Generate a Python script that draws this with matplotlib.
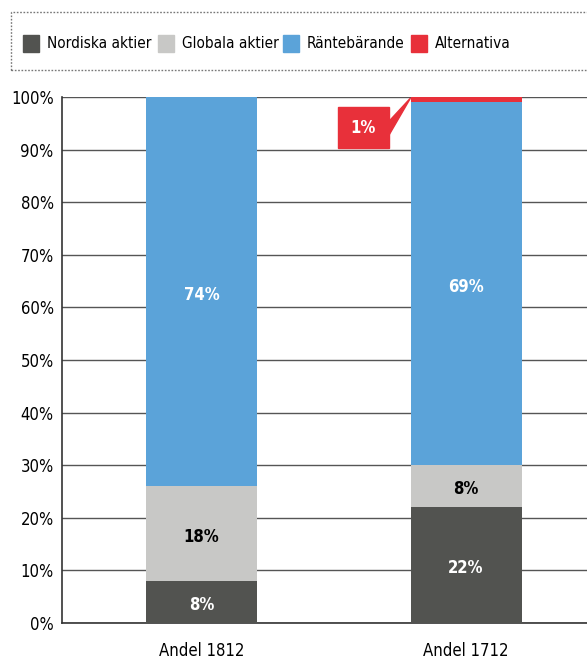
import matplotlib
matplotlib.use("Agg")
import matplotlib.pyplot as plt
from matplotlib.patches import Rectangle, Polygon
import numpy as np

plt.rcParams["font.family"] = ["DejaVu Sans"]
plt.rcParams["font.stretch"] = "condensed"

categories = ["Andel 1812", "Andel 1712"]
series_names = ["Nordiska aktier", "Globala aktier", "Räntebärande", "Alternativa"]
nordiska = [8, 22]
globala = [18, 8]
rante = [74, 69]
alternativa = [0, 1]
colors = ["#525350", "#c8c8c6", "#5ba3d9", "#e8303a"]
label_colors = ["white", "black", "white", "white"]

fig = plt.figure(figsize=(5.87, 6.6), dpi=100)
ax = fig.add_axes([62 / 587, 1 - 623 / 660, 1 - 62 / 587, (623 - 97) / 660])

x = np.arange(len(categories))
width = 0.42
bottom = np.zeros(len(categories))
series = [nordiska, globala, rante, alternativa]
for vals, col, lcol in zip(series, colors, label_colors):
    vals = np.array(vals, dtype=float)
    ax.bar(x, vals, width, bottom=bottom, color=col, zorder=3)
    for xi, v, b in zip(x, vals, bottom):
        if v >= 5:
            ax.text(xi, b + v / 2 - 0.6, f"{int(v)}%", ha="center", va="center",
                    color=lcol, fontsize=12, fontweight="bold", zorder=4)
    bottom += vals

# callout for the small Alternativa slice
i = 1
tip_x = x[i] - width / 2
tip_y = bottom[i] - alternativa[i] / 2 + 0.3
bx, by, bw, bh = 0.612, 94.2, 0.193, 7.8
ax.add_patch(Rectangle((bx - bw / 2, by - bh / 2), bw, bh, color=colors[3],
                       zorder=5, clip_on=False))
ax.add_patch(Polygon([(bx + bw / 2 - 0.005, by - 1.9), (bx + bw / 2 - 0.005, by + 0.9),
                      (tip_x, tip_y)], closed=True, color=colors[3], zorder=5))
ax.text(bx, by, f"{alternativa[i]}%", ha="center", va="center", color="white",
        fontsize=12, fontweight="bold", zorder=6)

ax.set_xlim(-0.527, 1.457)
ax.set_ylim(0, 100)
ax.set_yticks(np.arange(0, 101, 10))
ax.set_yticklabels([f"{v}%" for v in range(0, 101, 10)], fontsize=12)
ax.set_xticks(x)
ax.set_xticklabels(categories, fontsize=12)
ax.tick_params(length=0, pad=6)
ax.tick_params(axis="x", pad=14)
ax.grid(axis="y", color="#555555", lw=1.0, zorder=0)
for s in ["top", "right"]:
    ax.spines[s].set_visible(False)
ax.spines["left"].set_color("#333333")
ax.spines["bottom"].set_color("#333333")
ax.spines["left"].set_linewidth(1.2)
ax.spines["bottom"].set_linewidth(1.2)

# legend box
W, H = 587, 660
fig.patches.append(Rectangle((11 / W, 1 - 70 / H), 590 / W, 58 / H,
                             transform=fig.transFigure, fill=False,
                             ls=(0, (1.2, 1.2)), lw=1, ec="#777777"))
item_x = [23, 158, 283, 411]
for name, col, px in zip(series_names, colors, item_x):
    fig.patches.append(Rectangle((px / W, 1 - 52 / H), 16 / W, 17 / H,
                                 transform=fig.transFigure, color=col))
    fig.text((px + 24) / W, 1 - 44 / H, name, ha="left", va="center", fontsize=11)

fig.savefig("out.png", dpi=100)
